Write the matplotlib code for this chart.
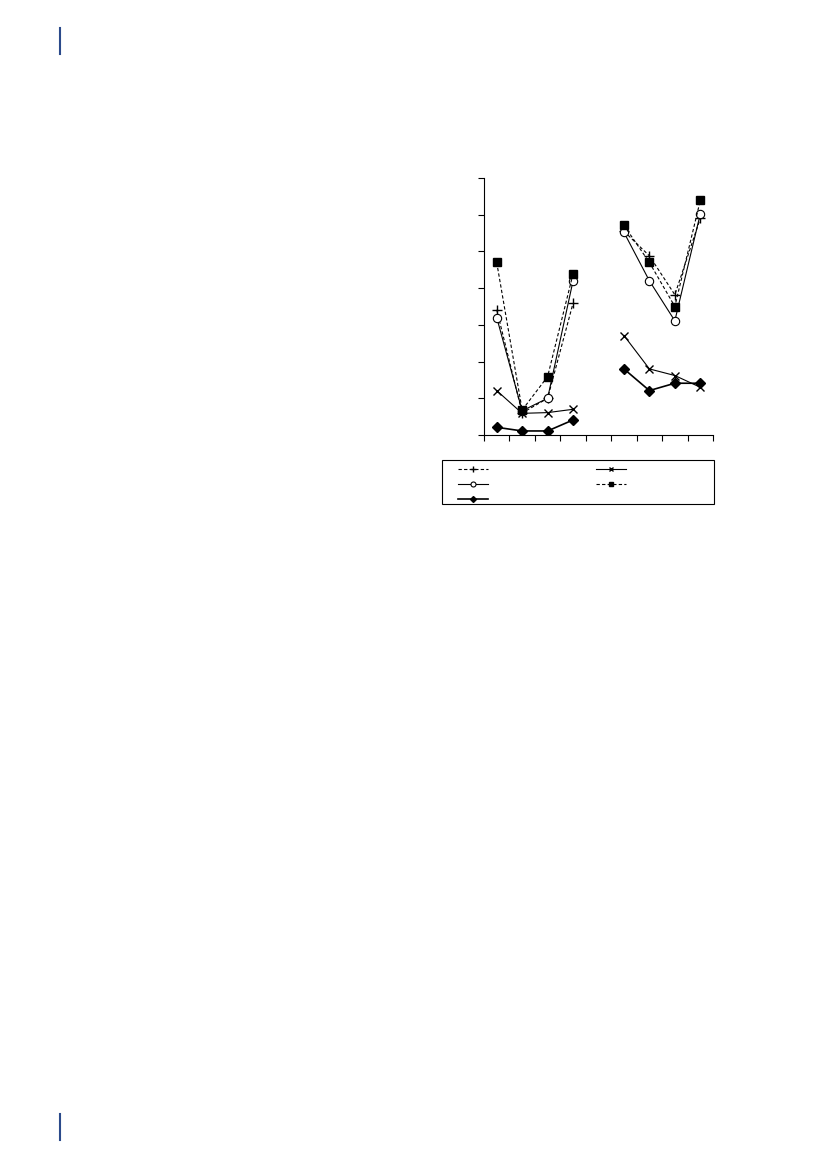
import matplotlib
matplotlib.use("Agg")
import matplotlib.pyplot as plt
from matplotlib.lines import Line2D
from matplotlib.patches import Rectangle

# Data (category positions 0..8, category 4 is an empty gap)
x_group1 = [0.5, 1.5, 2.5, 3.5]
x_group2 = [5.5, 6.5, 7.5, 8.5]

plus_g1 = [3.41, 0.6, 1.0, 3.59]
plus_g2 = [5.55, 4.88, 3.82, 5.9]
cross_g1 = [1.21, 0.59, 0.61, 0.70]
cross_g2 = [2.71, 1.8, 1.62, 1.3]
circle_g1 = [3.2, 0.66, 1.0, 4.2]
circle_g2 = [5.52, 4.2, 3.11, 6.02]
square_g1 = [4.7, 0.68, 1.59, 4.39]
square_g2 = [5.71, 4.7, 3.5, 6.39]
diamond_g1 = [0.21, 0.11, 0.11, 0.41]
diamond_g2 = [1.8, 1.21, 1.41, 1.41]

y_ticks = [0, 1, 2, 3, 4, 5, 6, 7]
x_ticks = [0, 1, 2, 3, 4, 5, 6, 7, 8, 9]

W, H = 827, 1169
fig = plt.figure(figsize=(W / 100, H / 100), dpi=100)

ax = fig.add_axes([484 / W, 1 - 435 / H, (713 - 484) / W, (435 - 178) / H])

lw = 0.8
styles = {
    "plus": dict(color="black", ls=(0, (3, 2)), lw=lw, marker="+", ms=7, mew=1.0),
    "cross": dict(color="black", ls="-", lw=lw, marker="x", ms=6, mew=1.0),
    "circle": dict(color="black", ls="-", lw=lw, marker="o", ms=6, mfc="white", mew=0.8),
    "square": dict(color="black", ls=(0, (3, 2)), lw=lw, marker="s", ms=5.5),
    "diamond": dict(color="black", ls="-", lw=1.2, marker="D", ms=5),
}

series = [
    ("plus", plus_g1, plus_g2),
    ("cross", cross_g1, cross_g2),
    ("circle", circle_g1, circle_g2),
    ("square", square_g1, square_g2),
    ("diamond", diamond_g1, diamond_g2),
]
for name, g1, g2 in series:
    ax.plot(x_group1, g1, **styles[name])
    ax.plot(x_group2, g2, **styles[name])

ax.set_xlim(0, 9)
ax.set_ylim(0, 7)
ax.set_xticks(x_ticks)
ax.set_yticks(y_ticks)
ax.set_xticklabels([])
ax.set_yticklabels([])
ax.tick_params(direction="out", length=4, width=0.8, color="black")
for s in ["top", "right"]:
    ax.spines[s].set_visible(False)
for s in ["left", "bottom"]:
    ax.spines[s].set_linewidth(0.8)

# Legend
order = ["plus", "circle", "diamond", "cross", "square"]
handles = [Line2D([], [], **styles[n]) for n in order]
for h in handles:
    h.set_markersize(h.get_markersize() * 0.6)
fs = 7
leg = fig.legend(handles, [" "] * 5, ncol=2,
                 bbox_to_anchor=(458 / W, 1 - 464 / H),
                 loc="upper left", frameon=False,
                 handlelength=30 / (fs * 100 / 72), fontsize=fs, borderpad=0,
                 labelspacing=0.55, handletextpad=0.4, columnspacing=10.4,
                 borderaxespad=0)
fig.add_artist(Rectangle((442 / W, 1 - 504 / H), (714 - 442) / W, (504 - 460) / H,
                         transform=fig.transFigure, fill=False, edgecolor="black", lw=0.8))

# Page margin marks
fig.add_artist(Line2D([60 / W, 60 / W], [1 - 28 / H, 1 - 54 / H], color="#2b4a8b", lw=1.5))
fig.add_artist(Line2D([60 / W, 60 / W], [1 - 1114 / H, 1 - 1140 / H], color="#2b4a8b", lw=1.5))

fig.savefig("out.png", dpi=100)
